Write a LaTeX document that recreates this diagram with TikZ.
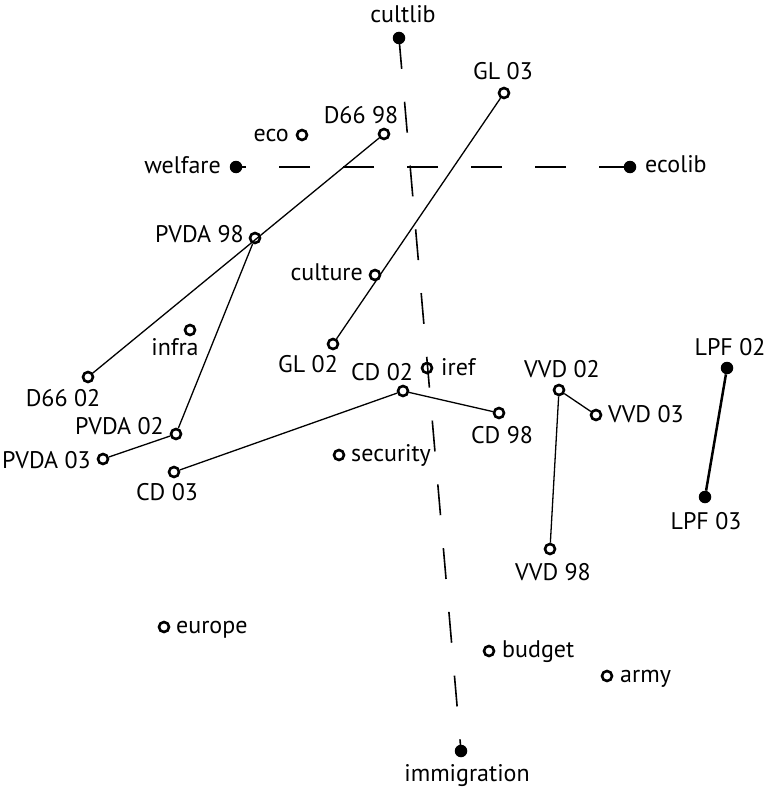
\documentclass[tikz,border=0pt]{standalone}
\usepackage{fontspec}
\setmainfont{PT Sans}
\usepackage{tikz}
\usetikzlibrary{positioning}

\begin{document}
\begin{tikzpicture}[x=1pt,y=-1pt,every node/.style={font=\fontsize{24}{28}\selectfont}]
    \tikzstyle{opn}=[circle,draw,line width=2.6pt,minimum size=10pt,inner sep=0pt];
    \tikzstyle{ful}=[circle,fill,minimum size=12.5pt,inner sep=0pt];
    \tikzstyle{lbl}=[inner sep=0pt];
    \tikzstyle{axis}=[line width=1.6pt,dash pattern=on 31pt off 33pt];
    \tikzstyle{traj}=[line width=1.3pt];
    \useasboundingbox (0,0) rectangle (764,789);

    % axes ends
    \node[ful] (cultlib) at (399,38)  {};
    \node[ful] (immig)   at (461,751) {};
    \node[ful] (welfare) at (236,167) {};
    \node[ful] (ecolib)  at (630,167) {};
    \node[lbl,anchor=base]      at (403,23)  {cultlib};
    \node[lbl,anchor=base]      at (467,781) {immigration};
    \node[lbl,anchor=base east] at (221,173) {welfare};
    \node[lbl,anchor=base west] at (645,172) {ecolib};

    % issues
    \node[opn] (eco)      at (302,135) {};
    \node[opn] (culture)  at (375,275) {};
    \node[opn] (infra)    at (190,330) {};
    \node[opn] (iref)     at (427,368) {};
    \node[opn] (security) at (339,455) {};
    \node[opn] (europe)   at (164,627) {};
    \node[opn] (budget)   at (489,651) {};
    \node[opn] (army)     at (607,676) {};
    \node[lbl,anchor=base east] at (289,142) {eco};
    \node[lbl,anchor=base east] at (363,280) {culture};
    \node[lbl,anchor=base]      at (175,355) {infra};
    \node[lbl,anchor=base west] at (441,375) {iref};
    \node[lbl,anchor=base west] at (351,461) {security};
    \node[lbl,anchor=base west] at (176,633) {europe};
    \node[lbl,anchor=base west] at (502,657) {budget};
    \node[lbl,anchor=base west] at (620,682) {army};

    % parties
    \node[opn] (d6698)  at (384,134) {};
    \node[opn] (d6602)  at (88,377)  {};
    \node[opn] (gl03)   at (504,93)  {};
    \node[opn] (gl02)   at (333,344) {};
    \node[opn] (pvda98) at (255,238) {};
    \node[opn] (pvda02) at (176,434) {};
    \node[opn] (pvda03) at (103,459) {};
    \node[opn] (cd02)   at (403,391) {};
    \node[opn] (cd98)   at (499,413) {};
    \node[opn] (cd03)   at (174,472) {};
    \node[opn] (vvd02)  at (559,390) {};
    \node[opn] (vvd03)  at (596,415) {};
    \node[opn] (vvd98)  at (550,549) {};
    \node[ful] (lpf02)  at (727,368) {};
    \node[ful] (lpf03)  at (705,497) {};
    \node[lbl,anchor=base]      at (361,124) {D66 98};
    \node[lbl,anchor=base]      at (63,406)  {D66 02};
    \node[lbl,anchor=base]      at (503,80)  {GL 03};
    \node[lbl,anchor=base]      at (308,372) {GL 02};
    \node[lbl,anchor=base east] at (244,242) {PVDA 98};
    \node[lbl,anchor=base east] at (164,434) {PVDA 02};
    \node[lbl,anchor=base east] at (91,468)  {PVDA 03};
    \node[lbl,anchor=base]      at (382,380) {CD 02};
    \node[lbl,anchor=base]      at (502,443) {CD 98};
    \node[lbl,anchor=base]      at (167,500) {CD 03};
    \node[lbl,anchor=base]      at (562,377) {VVD 02};
    \node[lbl,anchor=base west] at (608,422) {VVD 03};
    \node[lbl,anchor=base]      at (553,580) {VVD 98};
    \node[lbl,anchor=base]      at (730,355) {LPF 02};
    \node[lbl,anchor=base]      at (706,529) {LPF 03};

    \draw[axis] (ecolib.center) -- (welfare.center);
    \draw[axis] (cultlib.center) -- (immig.center);

    \draw[traj] (d6698) -- (d6602);
    \draw[traj] (gl03) -- (gl02);
    \draw[traj] (pvda98) -- (pvda02) -- (pvda03);
    \draw[traj] (cd03) -- (cd02) -- (cd98);
    \draw[traj] (vvd98) -- (vvd02) -- (vvd03);
    \draw[line width=2.5pt] (lpf02) -- (lpf03);
\end{tikzpicture}
\end{document}
